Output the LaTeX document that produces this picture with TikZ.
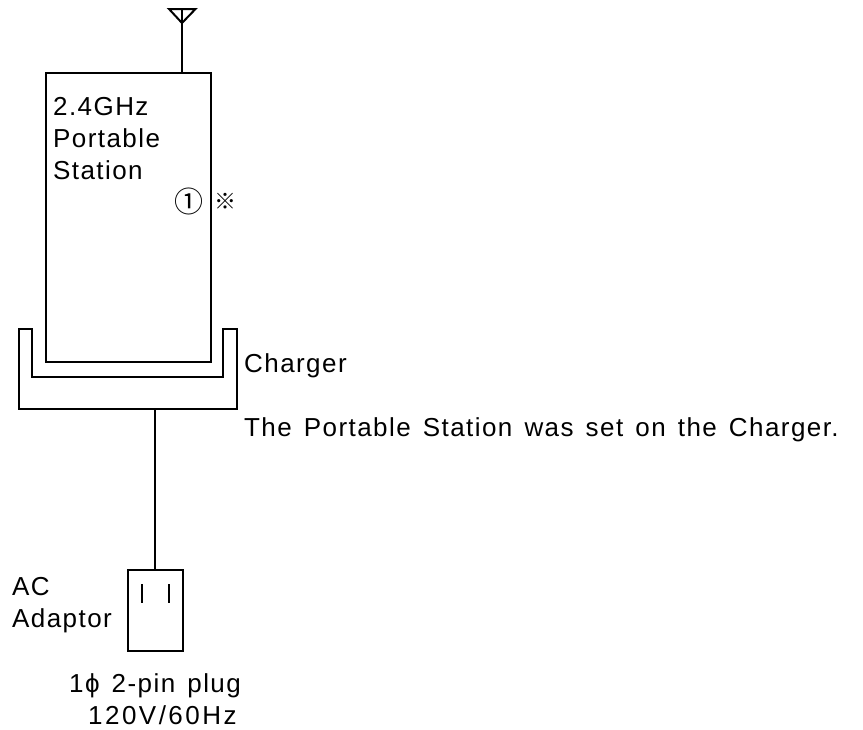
\documentclass[tikz,border=0pt]{standalone}
\usepackage{fontspec}
\setmainfont[LetterSpace=5.5,WordSpace=1.4]{Liberation Sans}
\newfontfamily\cjk{Noto Sans CJK JP}
\newfontfamily\widefont[LetterSpace=9.5]{Liberation Sans}
\tikzset{
  line/.style={draw=black,line width=2pt,line cap=rect},
  txt/.style={inner sep=0pt,anchor=base west,font=\fontsize{26}{29}\selectfont,text=black},
}
\begin{document}
\begin{tikzpicture}[x=1pt,y=-1pt]
\useasboundingbox (0,0) rectangle (863,729);
\node[line,inner sep=0pt,minimum width=165pt,minimum height=289pt,anchor=north west] (body) at (45,72) {};
\node[line,inner sep=0pt,minimum width=55pt,minimum height=81pt,anchor=north west] (adaptor) at (127,569) {};
\coordinate (anttop) at (182,9);
\coordinate (antapex) at (182,23);
\coordinate (bodyant) at (182,73);
\coordinate (chargerbot) at (155,408.7);
\coordinate (adtop) at (155,570);
\draw[line] (169,9) -- (195.5,9) -- (antapex) -- cycle;
\draw[line] (anttop) -- (bodyant);
\draw[line] (18.7,329) -- (32,329) -- (32,377) -- (223,377) -- (223,329) -- (237,329) -- (237,408.7) -- (18.7,408.7) -- cycle;
\draw[line] (chargerbot) -- (adtop);
\draw[line] (142,585) -- (142,602);
\draw[line] (169,585) -- (169,602);
\node[txt] (l1) at (53,115) {2.4GHz};
\node[txt] (l2) at (53,147) {Portable};
\node[txt] (l3) at (53,179) {Station};
\node[inner sep=0pt,font=\cjk\fontsize{29}{29}\selectfont] (c1) at (188.5,201.5) {①};
\node[inner sep=0pt,font=\cjk\bfseries\fontsize{22}{22}\selectfont] (star) at (225.5,201.5) {※};
\node[txt] (ch) at (244,372) {Charger};
\node[txt] (note) at (244,436) {The Portable Station was set on the Charger.};
\node[txt] (ac) at (12,595) {AC};
\node[txt] (ad) at (12,627) {Adaptor};
\node[txt] (p1) at (69,692) {1ϕ 2-pin plug};
\node[txt,font=\widefont\fontsize{26}{29}\selectfont] (p2) at (88,724) {120V/60Hz};
\end{tikzpicture}
\end{document}
